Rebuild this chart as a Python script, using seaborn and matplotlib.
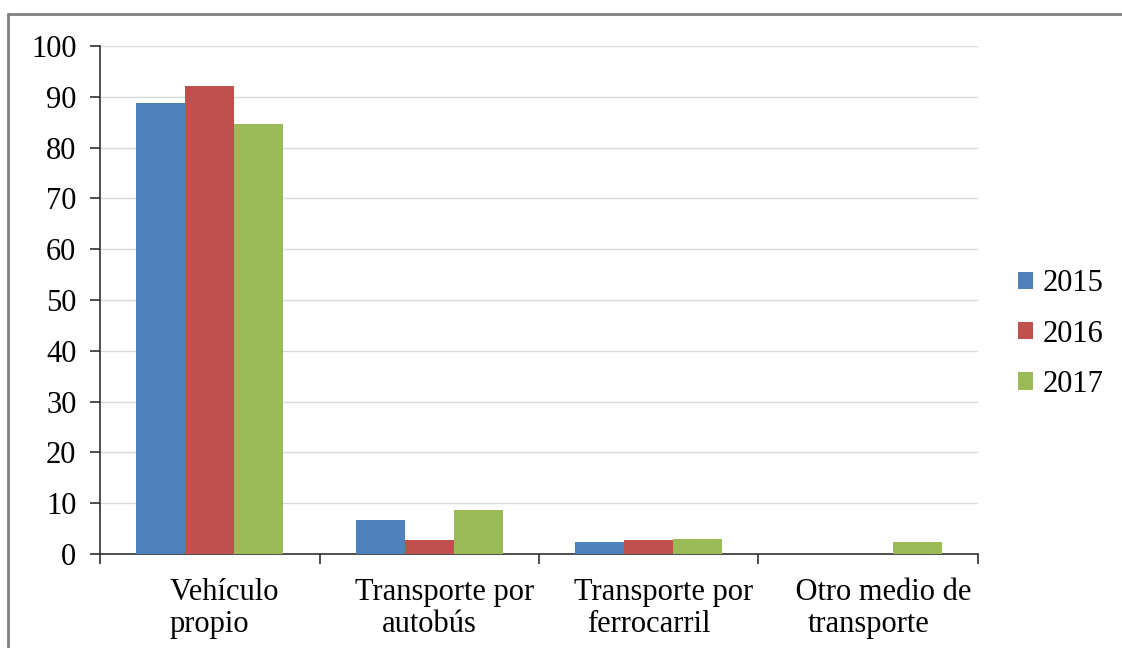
from matplotlib import pyplot as plt
from matplotlib.lines import Line2D
import pandas as pd
import seaborn as sns
import numpy as np

# datos
categorias = ['Vehículo\npropio', 'Transporte por\nautobús',
              'Transporte por\nferrocarril', 'Otro medio de\ntransporte']
anios = ['2015', '2016', '2017']
v2015 = [88.7, 6.6, 2.4, 0.0]
v2016 = [92.2, 2.8, 2.8, 0.0]
v2017 = [84.6, 8.6, 3.0, 2.3]
colores = ['#4F81BD', '#C0504D', '#9BBB59']

df = pd.DataFrame({
    'categoria': categorias * 3,
    'anio': [a for a in anios for _ in categorias],
    'valor': v2015 + v2016 + v2017,
})

sns.set_style('white')
plt.rcParams['font.family'] = ['Liberation Serif', 'DejaVu Serif']
plt.rcParams['text.color'] = 'black'
plt.rcParams['xtick.color'] = 'black'
plt.rcParams['ytick.color'] = 'black'

fig = plt.figure(figsize=(11.22, 6.48), dpi=100)
ax = fig.add_axes([100 / 1122, 1 - 554 / 648, 878 / 1122, 508 / 648])

sns.barplot(data=df, x='categoria', y='valor', hue='anio', order=categorias,
            hue_order=anios, palette=colores, width=0.67, gap=0, saturation=1,
            linewidth=0, errorbar=None, ax=ax, zorder=3)

ax.set_ylim(0, 100)
ax.set_xlim(-0.5, len(categorias) - 0.5)
ax.set_yticks(np.arange(0, 101, 10))
ax.yaxis.grid(True, color='#d9d9d9', linewidth=1, zorder=0)
ax.set_axisbelow(True)
ax.set_xlabel('')
ax.set_ylabel('')

for s in ['top', 'right']:
    ax.spines[s].set_visible(False)
for s in ['left', 'bottom']:
    ax.spines[s].set_color('#303030')
    ax.spines[s].set_linewidth(1.2)

ax.tick_params(axis='y', which='major', length=7, width=1.2, color='#303030',
               labelsize=22, pad=10, direction='out', left=True)
ax.tick_params(axis='x', which='major', length=0, labelsize=22, pad=17)
ax.set_xticks(np.arange(-0.5, len(categorias), 1), minor=True)
ax.tick_params(axis='x', which='minor', length=7, width=1.2, color='#303030',
               direction='out', bottom=True)
# en el original la primera linea queda algo desplazada a la derecha
ax.set_xticks(range(len(categorias)))
ax.set_xticklabels(['    ' + c for c in categorias])
for lbl in ax.get_xticklabels():
    lbl.set_linespacing(1.15)
    lbl.set_multialignment('center')

leg = ax.legend(loc='center left', bbox_to_anchor=(1018 / 1122, 1 - 334 / 648),
                bbox_transform=fig.transFigure, frameon=False, fontsize=22,
                borderpad=0, borderaxespad=0,
                handlelength=0.5, handleheight=0.5, handletextpad=0.3,
                labelspacing=0.7, title=None)

# marco gris alrededor del grafico
fig.add_artist(Line2D([8 / 1122, 1.0], [1 - 14 / 648, 1 - 14 / 648],
                      transform=fig.transFigure, color='#808080', linewidth=2))
fig.add_artist(Line2D([8 / 1122, 8 / 1122], [0.0, 1 - 14 / 648],
                      transform=fig.transFigure, color='#808080', linewidth=2))

fig.savefig('out.png', dpi=100)
